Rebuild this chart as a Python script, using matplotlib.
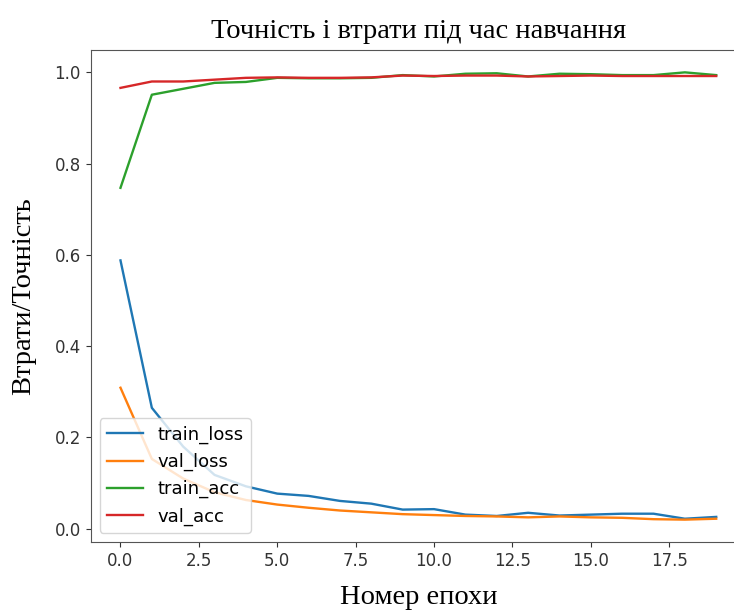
import numpy as np
import matplotlib
matplotlib.use("Agg")
import matplotlib.pyplot as plt

epochs = np.arange(20)

train_loss = [0.588, 0.265, 0.18, 0.118, 0.093, 0.077, 0.072, 0.061, 0.055, 0.042,
              0.043, 0.031, 0.028, 0.035, 0.029, 0.031, 0.033, 0.033, 0.022, 0.026]
val_loss = [0.309, 0.153, 0.11, 0.08, 0.063, 0.053, 0.046, 0.040, 0.036, 0.032,
            0.030, 0.028, 0.027, 0.025, 0.027, 0.025, 0.024, 0.021, 0.020, 0.022]
train_acc = [0.747, 0.951, 0.964, 0.977, 0.979, 0.988, 0.987, 0.987, 0.988, 0.994,
             0.991, 0.997, 0.998, 0.991, 0.997, 0.996, 0.994, 0.994, 1.0, 0.994]
val_acc = [0.966, 0.980, 0.980, 0.984, 0.988, 0.989, 0.988, 0.988, 0.989, 0.993,
           0.992, 0.993, 0.993, 0.991, 0.992, 0.993, 0.992, 0.992, 0.992, 0.992]

fig = plt.figure(figsize=(7.34, 6.10), dpi=100)
# right edge of the axes sits past the image border (cropped in the original)
ax = fig.add_axes([90.7 / 734, 1 - 542 / 610, (746 - 90.7) / 734, (542 - 50) / 610])

ax.plot(epochs, train_loss, label="train_loss", lw=1.7)
ax.plot(epochs, val_loss, label="val_loss", lw=1.7)
ax.plot(epochs, train_acc, label="train_acc", lw=1.7)
ax.plot(epochs, val_acc, label="val_acc", lw=1.7)

serif = ["Liberation Serif", "DejaVu Serif"]
ax.set_title("Точність і втрати під час навчання", family=serif, fontsize=20.5, pad=9)
ax.set_xlabel("Номер епохи", family=serif, fontsize=20.5, labelpad=11)
ax.set_ylabel("Втрати/Точність", family=serif, fontsize=20.5, labelpad=13)
ax.tick_params(labelsize=12, colors="#333333")
for s in ax.spines.values():
    s.set_color("#555555")
ax.spines["right"].set_visible(False)
ax.legend(loc="lower left", fontsize=13)

fig.savefig("out.png", dpi=100)
